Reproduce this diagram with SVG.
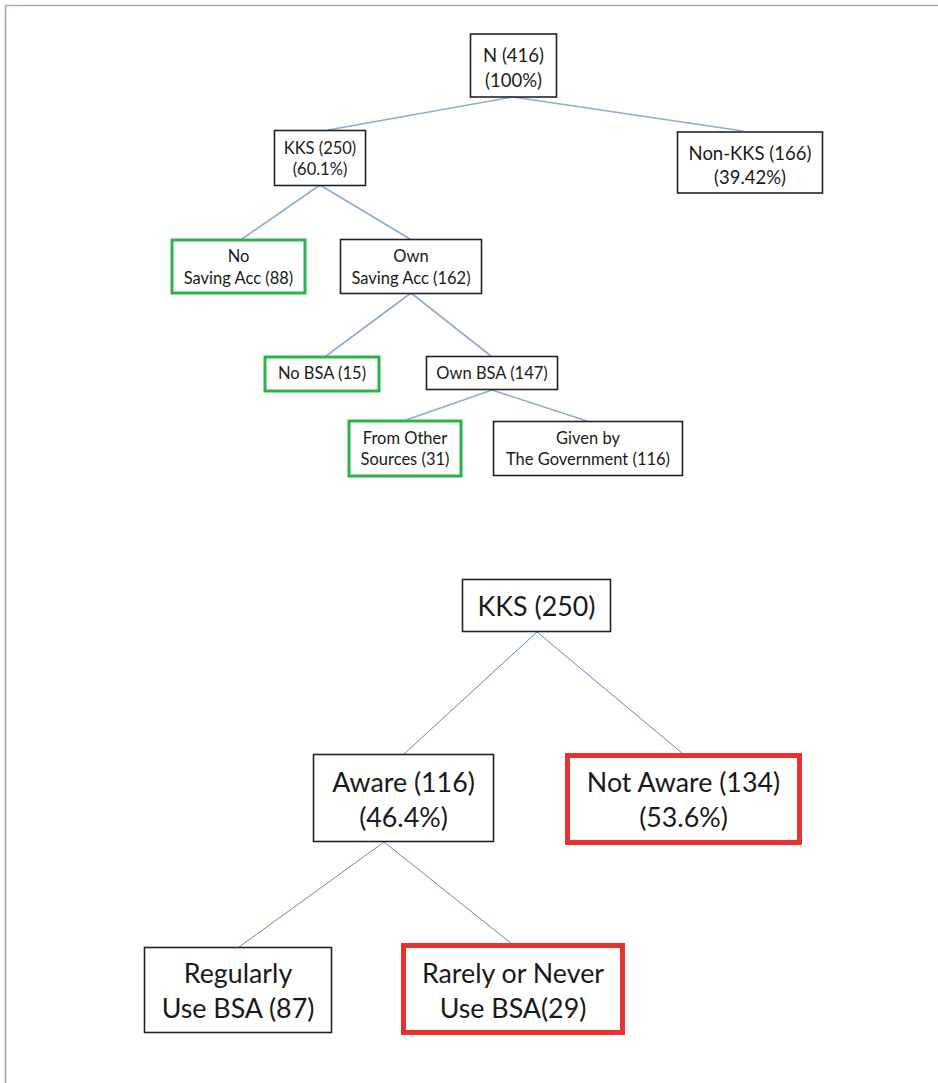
<svg xmlns="http://www.w3.org/2000/svg" width="938" height="1083" viewBox="0 0 938 1083">
<style>
  text{font-family:Lato,"Open Sans","Liberation Sans",sans-serif;fill:#1a1a1a;text-anchor:middle}
  .b{fill:#fff;stroke:#222;stroke-width:1.6}
  .g{fill:#fff;stroke:#2cb34a;stroke-width:3}
  .r{fill:#fff;stroke:#e8302e;stroke-width:5}
  .s{font-size:16.5px}
  .m{font-size:18.5px}
  .l{font-size:26.8px}
  .c1{stroke:#8eaadc;stroke-width:1.6;fill:none}
  .c2{stroke:#5b86d0;stroke-width:1;fill:none}
</style>
<rect width="938" height="1083" fill="#fff"/>
<path d="M5.5 1083V5.5H938" fill="none" stroke="#b9a39d" stroke-width="1.6"/>
<g id="connectors">
  <line class="c1" x1="513" y1="97" x2="328" y2="130"/>
  <line class="c1" x1="513" y1="97" x2="743" y2="131"/>
  <line class="c1" x1="320" y1="185" x2="242" y2="239"/>
  <line class="c1" x1="320" y1="185" x2="410" y2="239"/>
  <line class="c1" x1="411" y1="293" x2="326" y2="356"/>
  <line class="c1" x1="411" y1="293" x2="491" y2="356"/>
  <line class="c1" x1="492" y1="390" x2="406" y2="420"/>
  <line class="c1" x1="492" y1="390" x2="587" y2="421"/>
  <line class="c2" x1="537" y1="632" x2="404" y2="754"/>
  <line class="c2" x1="537" y1="632" x2="682" y2="753"/>
  <line class="c2" x1="384" y1="842" x2="239" y2="947"/>
  <line class="c2" x1="384" y1="842" x2="512" y2="944"/>
</g>
<g id="n-root">
  <rect class="b" x="470.5" y="34" width="86" height="63"/>
  <text class="m" x="513.5" y="61.5">N (416)</text>
  <text class="m" x="513.5" y="86.5">(100%)</text>
</g>
<g id="n-kks-top">
  <rect class="b" x="274.5" y="130.5" width="91" height="55"/>
  <text class="s" x="320" y="154">KKS (250)</text>
  <text class="s" x="320" y="175">(60.1%)</text>
</g>
<g id="n-nonkks">
  <rect class="b" x="677.5" y="132" width="145" height="61"/>
  <text class="m" x="750" y="159.5">Non-KKS (166)</text>
  <text class="m" x="750" y="183.5">(39.42%)</text>
</g>
<g id="n-nosaving">
  <rect class="g" x="172" y="240" width="133" height="53"/>
  <text class="s" x="238.5" y="262">No</text>
  <text class="s" x="238.5" y="284">Saving Acc (88)</text>
</g>
<g id="n-ownsaving">
  <rect class="b" x="340.5" y="239.5" width="141" height="54"/>
  <text class="s" x="411" y="262">Own</text>
  <text class="s" x="411" y="284">Saving Acc (162)</text>
</g>
<g id="n-nobsa">
  <rect class="g" x="265" y="357" width="114" height="34"/>
  <text class="s" x="322" y="379">No BSA (15)</text>
</g>
<g id="n-ownbsa">
  <rect class="b" x="426.5" y="356.5" width="131" height="33"/>
  <text class="s" x="492" y="379">Own BSA (147)</text>
</g>
<g id="n-other">
  <rect class="g" x="349" y="421" width="112" height="55"/>
  <text class="s" x="405" y="444">From Other</text>
  <text class="s" x="405" y="465">Sources (31)</text>
</g>
<g id="n-gov">
  <rect class="b" x="493.5" y="421.5" width="189" height="54"/>
  <text class="s" x="588" y="444">Given by</text>
  <text class="s" x="588" y="465">The Government (116)</text>
</g>
<g id="n-kks-bottom">
  <rect class="b" x="462.5" y="579.5" width="148" height="52"/>
  <text class="l" x="536.5" y="616">KKS (250)</text>
</g>
<g id="n-aware">
  <rect class="b" x="313.5" y="754.5" width="180" height="87"/>
  <text class="l" x="403.5" y="791.5">Aware (116)</text>
  <text class="l" x="403.5" y="826.5">(46.4%)</text>
</g>
<g id="n-notaware">
  <rect class="r" x="567.5" y="755.5" width="232" height="87"/>
  <text class="l" x="683.5" y="791.5">Not Aware (134)</text>
  <text class="l" x="683.5" y="826.5">(53.6%)</text>
</g>
<g id="n-regular">
  <rect class="b" x="144.5" y="947.5" width="187" height="85"/>
  <text class="l" x="238" y="982.5">Regularly</text>
  <text class="l" x="238" y="1017.5">Use BSA (87)</text>
</g>
<g id="n-rarely">
  <rect class="r" x="403.5" y="945.5" width="219" height="87"/>
  <text class="l" x="513" y="982.5">Rarely or Never</text>
  <text class="l" x="513" y="1017.5">Use BSA(29)</text>
</g>
</svg>
